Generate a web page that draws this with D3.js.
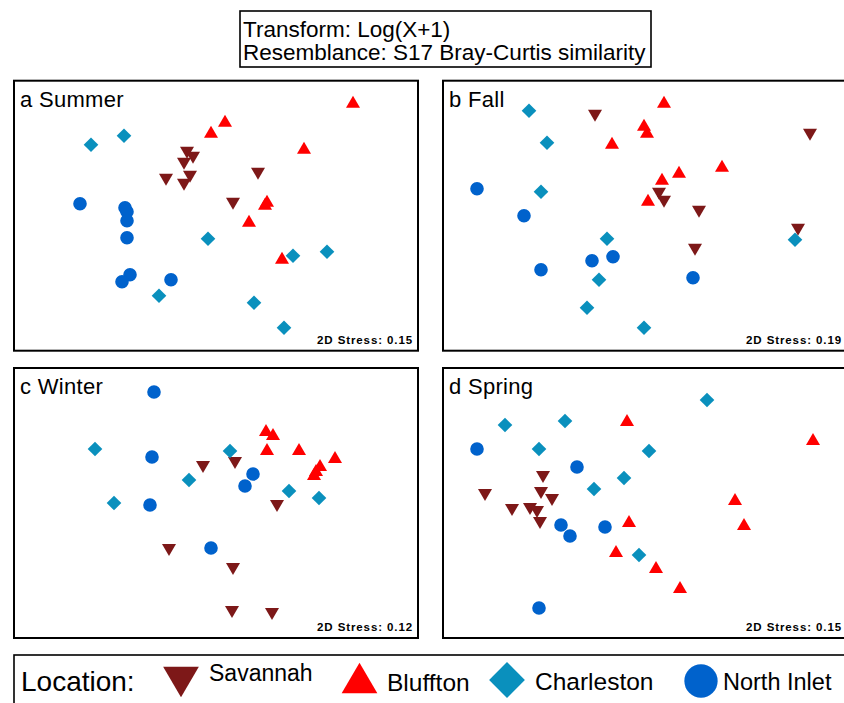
<!DOCTYPE html>
<html>
<head>
<meta charset="utf-8">
<script src="https://cdn.jsdelivr.net/npm/d3@7"></script>
<style>
  html, body { margin: 0; padding: 0; background: #fff; }
  svg { display: block; font-family: "Liberation Sans", Arial, sans-serif; }
</style>
</head>
<body>
<svg id="chart" width="844" height="703"></svg>
<script>
// NMDS ordination scores (x, y) per season and location
const seasonLabels = ["a Summer", "b Fall", "c Winter", "d Spring"];
const stressValues = [0.15, 0.19, 0.12, 0.15];
const locations = ["Savannah", "Bluffton", "Charleston", "North Inlet"];
const headerLines = ["Transform: Log(X+1)", "Resemblance: S17 Bray-Curtis similarity"];

const summerSavannah = [[-0.29, 0.63], [-0.23, 0.58], [-0.32, 0.52], [-0.50, 0.36], [-0.26, 0.39], [-0.32, 0.31], [0.42, 0.42], [0.17, 0.12]];
const summerBluffton = [[1.37, 1.14], [0.09, 0.95], [-0.05, 0.84], [0.88, 0.68], [0.51, 0.15], [0.49, 0.12], [0.33, -0.05], [0.66, -0.42]];
const summerCharleston = [[-1.25, 0.71], [-0.92, 0.80], [-0.08, -0.23], [0.77, -0.40], [1.11, -0.36], [-0.57, -0.80], [0.38, -0.87], [0.68, -1.12]];
const summerNorthInlet = [[-1.36, 0.12], [-0.91, 0.08], [-0.89, 0.04], [-0.89, -0.05], [-0.89, -0.22], [-0.86, -0.59], [-0.94, -0.66], [-0.45, -0.64]];

const fallSavannah = [[-0.50, 1.00], [1.65, 0.81], [0.14, 0.22], [0.19, 0.14], [0.54, 0.04], [1.53, -0.14], [0.50, -0.34]];
const fallBluffton = [[0.19, 1.14], [-0.01, 0.91], [0.02, 0.84], [-0.33, 0.73], [0.77, 0.50], [0.34, 0.44], [0.17, 0.37], [0.03, 0.16]];
const fallCharleston = [[-1.16, 1.05], [-0.98, 0.73], [-1.04, 0.24], [-0.38, -0.23], [1.50, -0.24], [-0.46, -0.64], [-0.58, -0.92], [-0.01, -1.12]];
const fallNorthInlet = [[-1.68, 0.27], [-1.21, 0.00], [-0.32, -0.41], [-0.53, -0.45], [-1.04, -0.54], [0.48, -0.62]];

const winterSavannah = [[-0.13, 0.36], [0.19, 0.40], [0.61, -0.03], [-0.47, -0.47], [0.17, -0.66], [0.16, -1.09], [0.56, -1.11]];
const winterBluffton = [[0.50, 0.73], [0.57, 0.69], [0.51, 0.54], [0.83, 0.54], [1.19, 0.46], [1.04, 0.38], [1.00, 0.33], [0.98, 0.29]];
const winterCharleston = [[-1.21, 0.54], [0.14, 0.52], [-0.27, 0.23], [0.73, 0.12], [1.03, 0.05], [-1.02, 0.00]];
const winterNorthInlet = [[-0.62, 1.11], [-0.64, 0.46], [0.37, 0.29], [0.29, 0.17], [-0.66, -0.02], [-0.05, -0.45]];

const springSavannah = [[-1.02, 0.26], [-1.60, 0.08], [-1.04, 0.10], [-0.93, 0.03], [-1.33, -0.07], [-1.15, -0.06], [-1.08, -0.09], [-1.05, -0.20]];
const springBluffton = [[-0.18, 0.83], [1.68, 0.64], [0.90, 0.04], [-0.16, -0.18], [0.99, -0.21], [-0.29, -0.48], [0.11, -0.64], [0.35, -0.84]];
const springCharleston = [[0.62, 1.03], [-1.40, 0.78], [-0.80, 0.82], [-1.06, 0.54], [0.04, 0.52], [-0.21, 0.25], [-0.51, 0.14], [-0.06, -0.52]];
const springNorthInlet = [[-1.68, 0.54], [-0.68, 0.36], [-0.84, -0.22], [-0.75, -0.33], [-0.40, -0.24], [-1.06, -1.05]];

const seasonData = [
  [summerSavannah, summerBluffton, summerCharleston, summerNorthInlet],
  [fallSavannah, fallBluffton, fallCharleston, fallNorthInlet],
  [winterSavannah, winterBluffton, winterCharleston, winterNorthInlet],
  [springSavannah, springBluffton, springCharleston, springNorthInlet]
];

// Styling
const colors = {
  "Savannah": "#7d1818",
  "Bluffton": "#ff0000",
  "Charleston": "#0a90bd",
  "North Inlet": "#0062cc"
};

// Marker shapes as path strings, sized by a scale factor k
function markerPath(loc, k) {
  if (loc === "Savannah") {
    const w = 14 * k, h = 12 * k;
    return `M${-w / 2},${-h / 2}L${w / 2},${-h / 2}L0,${h / 2}Z`;
  }
  if (loc === "Bluffton") {
    const w = 14 * k, h = 12 * k;
    return `M${-w / 2},${h / 2}L${w / 2},${h / 2}L0,${-h / 2}Z`;
  }
  if (loc === "Charleston") {
    const d = 7.3 * k;
    return `M0,${-d}L${d},0L0,${d}L${-d},0Z`;
  }
  const r = 6.8 * k;
  return `M${r},0A${r},${r} 0 1,1 ${-r},0A${r},${r} 0 1,1 ${r},0Z`;
}

const svg = d3.select("#chart");

// Header box
const header = svg.append("g");
header.append("rect")
  .attr("x", 240).attr("y", 11).attr("width", 411).attr("height", 56)
  .attr("fill", "none").attr("stroke", "#000").attr("stroke-width", 1.6);
header.selectAll("text").data(headerLines).join("text")
  .attr("x", 243)
  .attr("y", (d, i) => 37 + i * 23)
  .attr("font-size", 22.5)
  .attr("fill", "#000")
  .text(d => d);

// Panels
const panelW = 404, panelH = 270;
const panelPos = [[14, 80.7], [443, 80.7], [14, 368], [443, 368]];

seasonLabels.forEach((label, i) => {
  const [left, top] = panelPos[i];
  const g = svg.append("g").attr("transform", `translate(${left},${top})`);

  const x = d3.scaleLinear().domain([-2.02, 2.02]).range([0, panelW]);
  const y = d3.scaleLinear().domain([-1.35, 1.35]).range([panelH, 0]);

  g.append("rect")
    .attr("width", panelW).attr("height", panelH)
    .attr("fill", "#fff").attr("stroke", "#000").attr("stroke-width", 2);

  g.append("text")
    .attr("x", 6).attr("y", 26)
    .attr("font-size", 22)
    .attr("letter-spacing", 0.3)
    .attr("fill", "#000")
    .text(label);

  g.append("text")
    .attr("x", panelW - 5).attr("y", panelH - 7)
    .attr("text-anchor", "end")
    .attr("font-size", 11.5)
    .attr("font-weight", "bold")
    .attr("letter-spacing", 0.9)
    .attr("fill", "#000")
    .text(`2D Stress: ${stressValues[i].toFixed(2)}`);

  seasonData[i].forEach((pts, j) => {
    const loc = locations[j];
    g.append("g").selectAll("path").data(pts).join("path")
      .attr("transform", d => `translate(${x(d[0])},${y(d[1])})`)
      .attr("d", markerPath(loc, 1))
      .attr("fill", colors[loc]);
  });
});

// Legend
const legend = svg.append("g");
legend.append("rect")
  .attr("x", 14).attr("y", 655).attr("width", 900).attr("height", 80)
  .attr("fill", "none").attr("stroke", "#000").attr("stroke-width", 1.6);
legend.append("text")
  .attr("x", 21).attr("y", 691)
  .attr("font-size", 28)
  .attr("fill", "#000")
  .text("Location:");

const legendItems = [
  { loc: "Savannah", mx: 181, my: 682, tx: 209, ty: 681, fs: 23 },
  { loc: "Bluffton", mx: 359.5, my: 678, tx: 387, ty: 691, fs: 24.5 },
  { loc: "Charleston", mx: 507, my: 680, tx: 535, ty: 690, fs: 24.5 },
  { loc: "North Inlet", mx: 701, my: 681, tx: 723, ty: 690, fs: 23.5 }
];
const legendScale = { "Savannah": 2.55, "Bluffton": 2.55, "Charleston": 2.45, "North Inlet": 2.45 };
legendItems.forEach(it => {
  legend.append("path")
    .attr("transform", `translate(${it.mx},${it.my})`)
    .attr("d", markerPath(it.loc, legendScale[it.loc]))
    .attr("fill", colors[it.loc]);
  legend.append("text")
    .attr("x", it.tx).attr("y", it.ty)
    .attr("font-size", it.fs)
    .attr("fill", "#000")
    .text(it.loc);
});
</script>
</body>
</html>
